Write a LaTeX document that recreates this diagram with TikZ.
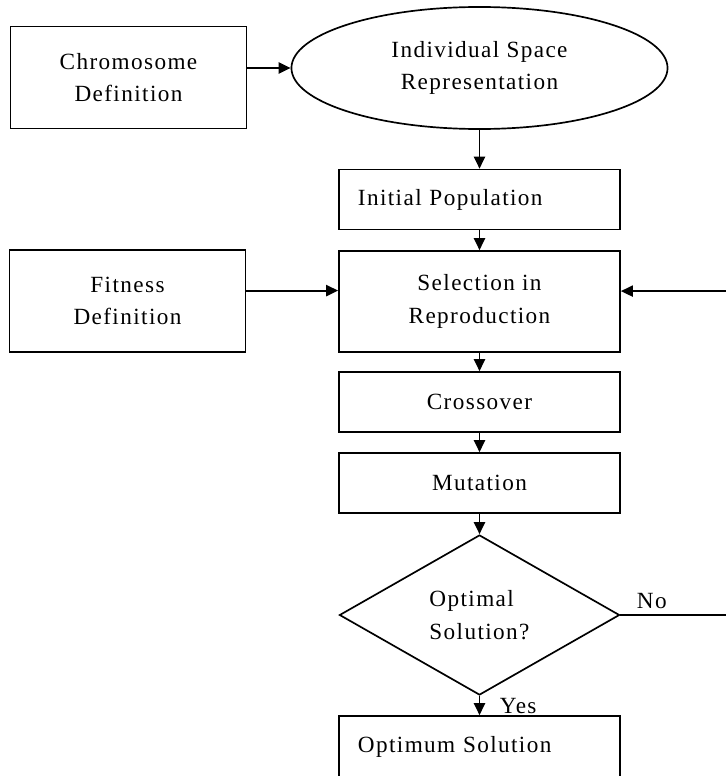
\documentclass[tikz,border=0pt]{standalone}
\usepackage{fontspec}
\setmainfont[LetterSpace=6]{Liberation Serif}
\usepackage{xcolor}
\usepackage{tikz}
\usetikzlibrary{shapes.geometric,arrows.meta}
\tikzset{
  boxfont/.style={font=\fontsize{16.5pt}{23pt}\selectfont},
  stepbox/.style={draw, rectangle, line width=1.2pt, minimum width=7.025cm, minimum height=1.5cm, boxfont, align=center},
  leftbox/.style={stepbox, inner xsep=0.475cm, text width=6.075cm, align=left},
  sidebox/.style={draw, rectangle, line width=1.2pt, minimum width=5.9cm, minimum height=2.55cm, boxfont, align=center},
  flow/.style={line width=1.3pt, -{Triangle[length=0.3cm,width=0.28cm]}}
}

\begin{document}
\begin{tikzpicture}[x=0.025cm, y=-0.025cm]%
\useasboundingbox (0,0) rectangle (725,776);%
\node[sidebox] (chrom) at (128.5,77.5) {Chromosome\\Definition};%
\node[draw, ellipse, line width=1.2pt, minimum width=9.4cm, minimum height=3.05cm, boxfont, align=center] (ell) at (479.5,68) {Individual Space\\Representation};%
\node[leftbox] (init) at (479.5,199.5) {Initial Population};%
\node[sidebox] (fit) at (127.5,301) {Fitness\\Definition};%
\node[stepbox, minimum height=2.525cm] (sel) at (479.5,301.5) {Selection in\\Reproduction};%
\node[stepbox] (cross) at (479.5,402) {Crossover};%
\node[stepbox] (mut) at (479.5,483) {Mutation};%
\node[draw, diamond, aspect=1.75, inner sep=0pt, line width=1.2pt, minimum width=7cm, minimum height=4cm, boxfont, align=left] (opt) at (479.5,615) {Optimal\\Solution?};%
\node[leftbox, minimum height=1.55cm] (best) at (479.5,747) {Optimum Solution};%
\node[anchor=south west, boxfont] (no) at (632,614) {No};%
\node[anchor=west, boxfont] (yes) at (495,706) {Yes};%
\coordinate (turn) at (730,615);%
\draw[flow] (chrom.east |- ell.west) -- (ell.west);%
\draw[flow] (ell.south) -- (init.north);%
\draw[flow] (init.south) -- (sel.north);%
\draw[flow] ([yshift=0.26cm]fit.east) -- ([yshift=0.26cm]fit.east -| sel.west);%
\draw[flow] (sel.south) -- (cross.north);%
\draw[flow] (cross.south) -- (mut.north);%
\draw[flow] (mut.south) -- (opt.north);%
\draw[flow] (opt.south) -- (best.north);%
\draw[flow, line width=1pt] (opt.east) -- (turn) |- ([yshift=0.26cm]sel.east);%
\end{tikzpicture}
\end{document}
